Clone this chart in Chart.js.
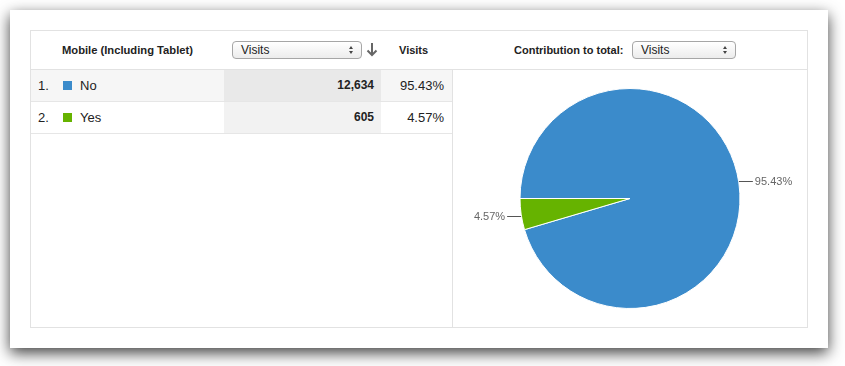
<!DOCTYPE html>
<html>
<head>
<meta charset="utf-8">
<script src="https://cdn.jsdelivr.net/npm/chart.js@4/dist/chart.umd.min.js"></script>
<style>
  body { margin: 0; background: #fff; width: 845px; height: 366px; overflow: hidden; font-family: "Liberation Sans", Arial, sans-serif; }
  .panel { position: absolute; left: 10px; top: 10px; width: 818px; height: 338px; background: #fff;
           box-shadow: 0 5px 14px rgba(0,0,0,0.75); }
  .frame { position: absolute; left: 30px; top: 30px; width: 776px; height: 296px; border: 1px solid #e2e2e2; }
  .abs { position: absolute; }
  .hdr { font-weight: bold; font-size: 11px; color: #222; }
  .row { position: absolute; left: 0; width: 421px; height: 31px; border-bottom: 1px solid #e6e6e6; }
  .cell { position: absolute; top: 0; height: 31px; line-height: 31px; font-size: 13px; color: #222; }
  .sq { position: absolute; top: 11px; width: 9px; height: 9px; }
  .sel { position: absolute; height: 16px; border: 1px solid #a6a6a6; border-radius: 4px;
         background: linear-gradient(#ffffff, #ececec); font-size: 12px; line-height: 16px; color: #222; box-sizing: content-box; }
  .sel span { position: absolute; left: 8px; top: 0; }
  .sel i { position: absolute; right: 8px; width: 0; height: 0; border-left: 2.5px solid transparent; border-right: 2.5px solid transparent; }
  .sel i.up { top: 4px; border-bottom: 3px solid #444; }
  .sel i.dn { top: 9px; border-top: 3px solid #444; }
</style>
</head>
<body>
<div class="panel"></div>
<div class="frame" id="frame">
  <div class="abs hdr" style="left:31px; top:13px; font-size:11.2px;">Mobile (Including Tablet)</div>
  <div class="sel" style="left:201px; top:10px; width:128px;"><span>Visits</span><i class="up"></i><i class="dn"></i></div>
  <svg class="abs" style="left:335px; top:11px;" width="12" height="15" viewBox="0 0 12 15">
    <path d="M6 1 V13 M1.5 8.5 L6 13 L10.5 8.5" fill="none" stroke="#666" stroke-width="2"/>
  </svg>
  <div class="abs hdr" style="left:368px; top:13px;">Visits</div>
  <div class="abs hdr" style="left:483px; top:13px;">Contribution to total:</div>
  <div class="sel" style="left:601px; top:10px; width:102px;"><span>Visits</span><i class="up"></i><i class="dn"></i></div>
  <div class="abs" style="left:0; top:38px; width:776px; height:1px; background:#e2e2e2;"></div>
  <div class="abs" style="left:421px; top:39px; width:1px; height:257px; background:#e2e2e2;"></div>
  <div id="rows"></div>
  <div class="abs" style="left:422px; top:39px; width:354px; height:257px;"><canvas id="pie"></canvas></div>
</div>
<script>
// dados do gráfico
const categorias = ['No', 'Yes'];
const visitas = [12634, 605];
const cores = ['#3b8bcb', '#66b300'];

const total = visitas.reduce((a, b) => a + b, 0);
const percentuais = visitas.map(v => (v / total * 100).toFixed(2) + '%');

// linhas da tabela
const rowsEl = document.getElementById('rows');
categorias.forEach((cat, i) => {
    const top = 39 + i * 32;
    const bg = i === 0 ? '#f6f6f6' : '#ffffff';
    const bgSort = i === 0 ? '#e9e9e9' : '#f2f2f2';
    const row = document.createElement('div');
    row.className = 'row';
    row.style.top = top + 'px';
    row.style.background = bg;
    row.innerHTML = `
        <div class="cell" style="left:7px;">${i + 1}.</div>
        <div class="sq" style="left:32px; background:${cores[i]};"></div>
        <div class="cell" style="left:49px;">${cat}</div>
        <div class="cell" style="left:193px; width:157px; background:${bgSort}; text-align:right; font-weight:bold; font-size:12px;"><span style="padding-right:7px;">${visitas[i].toLocaleString('en-US')}</span></div>
        <div class="cell" style="left:350px; width:63px; text-align:right;">${percentuais[i]}</div>
    `;
    rowsEl.appendChild(row);
});

// rótulos com linha guia
const rotulosPlugin = {
    id: 'rotulos',
    afterDatasetsDraw(chart) {
        const ctx = chart.ctx;
        const meta = chart.getDatasetMeta(0);
        ctx.save();
        ctx.font = '11px "Liberation Sans", Arial, sans-serif';
        ctx.fillStyle = '#666';
        ctx.strokeStyle = '#555';
        ctx.lineWidth = 1;
        ctx.textBaseline = 'middle';
        meta.data.forEach((arc, i) => {
            const mid = (arc.startAngle + arc.endAngle) / 2;
            const x0 = arc.x + Math.cos(mid) * arc.outerRadius;
            const y = Math.round(arc.y + Math.sin(mid) * (arc.outerRadius + 12)) + 0.5;
            const dir = Math.cos(mid) >= 0 ? 1 : -1;
            const x1 = x0 + dir * 14;
            ctx.beginPath();
            ctx.moveTo(x0, y);
            ctx.lineTo(x1, y);
            ctx.stroke();
            ctx.textAlign = dir > 0 ? 'left' : 'right';
            ctx.fillText(percentuais[i], x1 + dir * 2, y);
        });
        ctx.restore();
    }
};

new Chart(document.getElementById('pie'), {
    type: 'pie',
    data: {
        labels: categorias,
        datasets: [{
            data: visitas,
            backgroundColor: cores,
            borderColor: '#ffffff',
            borderWidth: 1
        }]
    },
    options: {
        responsive: true,
        maintainAspectRatio: false,
        animation: false,
        rotation: 270,
        layout: { padding: { top: 18, bottom: 18 } },
        plugins: {
            legend: { display: false },
            tooltip: { enabled: false }
        }
    },
    plugins: [rotulosPlugin]
});
</script>
</body>
</html>
